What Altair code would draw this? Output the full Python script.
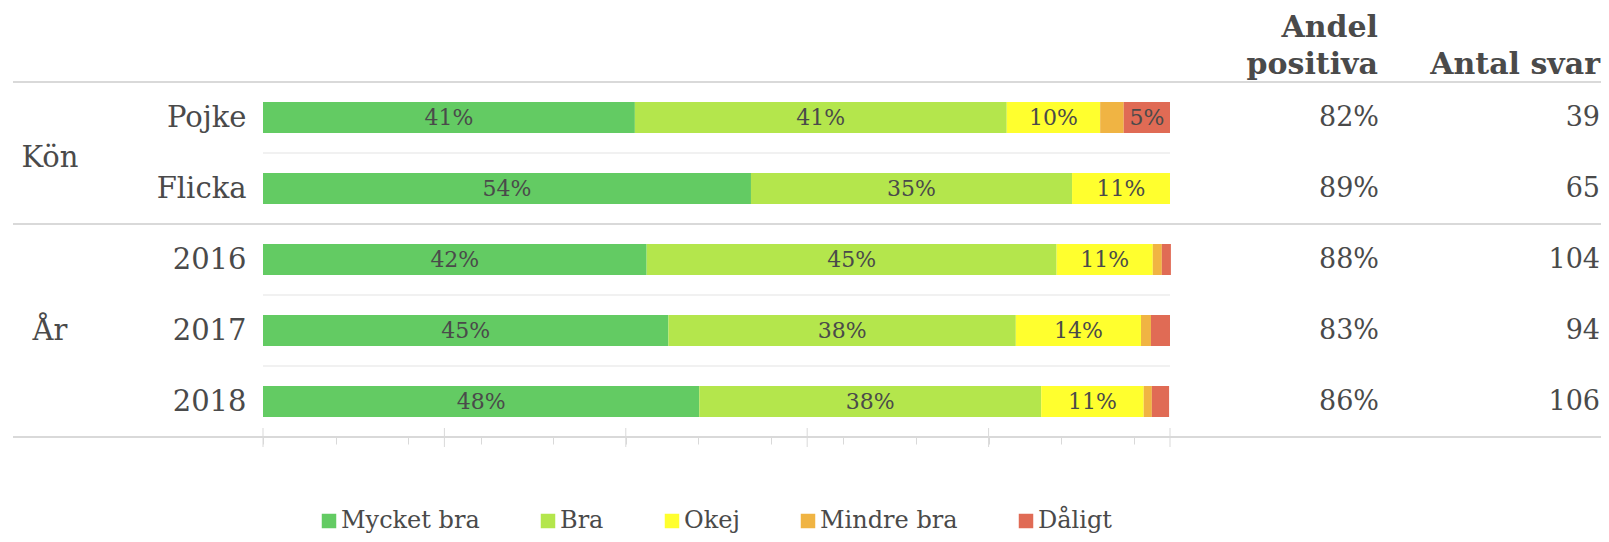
import altair as alt
import pandas as pd

FONT = "DejaVu Serif"
TXT = "#4A4A4A"

rows = ["Pojke", "Flicka", "2016", "2017", "2018"]
groups = ["Kön", "Kön", "År", "År", "År"]
categories = ["Mycket bra", "Bra", "Okej", "Mindre bra", "Dåligt"]
colors = ["#63CB63", "#B4E64C", "#FFFF2E", "#F0B443", "#E06B55"]

mycket_bra = [41.0, 53.8, 42.3, 44.7, 48.1]
bra = [41.0, 35.4, 45.2, 38.3, 37.7]
okej = [10.3, 10.8, 10.6, 13.8, 11.3]
mindre_bra = [2.6, 0.0, 1.0, 1.1, 0.9]
daligt = [5.1, 0.0, 1.0, 2.1, 1.9]

andel_positiva = [82, 89, 88, 83, 86]
antal_svar = [39, 65, 104, 94, 106]

tick_values = [0, 4, 8, 12, 16, 20, 24, 28, 32, 36, 40, 44, 48, 52, 56, 60,
               64, 68, 72, 76, 80, 84, 88, 92, 96, 100]
major_ticks = [0, 20, 40, 60, 80, 100]

series = [mycket_bra, bra, okej, mindre_bra, daligt]
recs = []
for ci, (cat, vals) in enumerate(zip(categories, series)):
    for ri, r in enumerate(rows):
        v = vals[ri]
        if v <= 0:
            continue
        recs.append({"row": r, "category": cat, "order": ci, "value": v,
                     "label": f"{round(v)}%" if v >= 4 else ""})
df = pd.DataFrame(recs)

side = pd.DataFrame({"row": rows,
                     "andel": [f"{v}%" for v in andel_positiva],
                     "antal": [str(v) for v in antal_svar]})

sep_rows = [rows[i] for i in range(len(rows) - 1) if groups[i] == groups[i + 1]]
sep_df = pd.DataFrame({"row": sep_rows})
grp_end_rows = [rows[i] for i in range(len(rows)) if i == len(rows) - 1 or groups[i] != groups[i + 1]]
grp_end_df = pd.DataFrame({"row": grp_end_rows})
grp_top_df = pd.DataFrame({"row": [rows[0]]})
major_df = pd.DataFrame({"v": major_ticks})

W, H = 907, 355
x_scale = alt.Scale(domain=[0, 100], nice=False, zero=True)
y_scale = alt.Scale(domain=rows, paddingInner=0, paddingOuter=0)

stacked = alt.Chart(df).transform_stack(
    stack="value", groupby=["row"], sort=[alt.SortField("order")], as_=["x0", "x1"]
)

bars = stacked.mark_bar(size=31).encode(
    x=alt.X("x0:Q", scale=x_scale,
            axis=alt.Axis(values=tick_values, ticks=True, tickSize=7, tickColor="#D9D9D9",
                          tickWidth=1, labels=False, domain=False, grid=False, title=None)),
    x2="x1:Q",
    y=alt.Y("row:N", sort=rows, scale=y_scale,
            axis=alt.Axis(title=None, ticks=False, domain=False, labelPadding=17,
                          labelFontSize=29, labelFont=FONT, labelColor=TXT,
                          labelAlign="right", labelBaseline="middle")),
    color=alt.Color("category:N", scale=alt.Scale(domain=categories, range=colors),
                    legend=alt.Legend(title=None, orient="none", legendX=54, legendY=427,
                                      direction="horizontal", symbolType="square",
                                      symbolSize=210, symbolStrokeWidth=0, symbolOpacity=1,
                                      labelFont=FONT, labelFontSize=24, labelColor=TXT,
                                      labelOffset=0, columnPadding=56, padding=0,
                                      labelLimit=400)),
    order=alt.Order("order:Q"),
)

labels = stacked.transform_calculate(mid="(datum.x0 + datum.x1) / 2").mark_text(
    font=FONT, fontSize=22, color=TXT, baseline="middle", align="center"
).encode(
    x=alt.X("mid:Q", scale=x_scale),
    y=alt.Y("row:N", sort=rows, scale=y_scale),
    text="label:N",
)

seps = alt.Chart(sep_df).mark_rule(color="#E3E3E3", strokeWidth=1).encode(
    y=alt.Y("row:N", sort=rows, scale=y_scale, bandPosition=1),
    x=alt.datum(0), x2=alt.datum(100),
)

grp_lines = alt.Chart(grp_end_df).mark_rule(color="#D9D9D9", strokeWidth=2).encode(
    y=alt.Y("row:N", sort=rows, scale=y_scale, bandPosition=1),
    x=alt.value(-250), x2=alt.value(1340),
)
grp_top = alt.Chart(grp_top_df).mark_rule(color="#D9D9D9", strokeWidth=2).encode(
    y=alt.Y("row:N", sort=rows, scale=y_scale, bandPosition=0),
    x=alt.value(-250), x2=alt.value(1340),
)

major = alt.Chart(major_df).mark_rule(color="#D9D9D9", strokeWidth=1).encode(
    x=alt.X("v:Q", scale=x_scale),
    y=alt.value(H - 9), y2=alt.value(H + 10),
)

kon = alt.Chart(pd.DataFrame({"row": ["Pojke"], "t": ["Kön"]})).mark_text(
    font=FONT, fontSize=29, color=TXT, align="center", baseline="middle", dy=5
).encode(
    x=alt.value(-213),
    y=alt.Y("row:N", sort=rows, scale=y_scale, bandPosition=1),
    text="t:N",
)
ar = alt.Chart(pd.DataFrame({"row": ["2017"], "t": ["År"]})).mark_text(
    font=FONT, fontSize=29, color=TXT, align="center", baseline="middle"
).encode(
    x=alt.value(-213),
    y=alt.Y("row:N", sort=rows, scale=y_scale),
    text="t:N",
)

andel_txt = alt.Chart(side).mark_text(
    font=FONT, fontSize=27, color=TXT, align="right", baseline="middle"
).encode(x=alt.value(1116), y=alt.Y("row:N", sort=rows, scale=y_scale), text="andel:N")
antal_txt = alt.Chart(side).mark_text(
    font=FONT, fontSize=27, color=TXT, align="right", baseline="middle"
).encode(x=alt.value(1337), y=alt.Y("row:N", sort=rows, scale=y_scale), text="antal:N")

hdr_df = pd.DataFrame({"a": [0]})
h1 = alt.Chart(hdr_df).mark_text(font=FONT, fontSize=30, fontWeight="bold", color=TXT,
                                 align="right", baseline="middle", text="Andel").encode(
    x=alt.value(1115), y=alt.value(-54))
h2 = alt.Chart(hdr_df).mark_text(font=FONT, fontSize=30, fontWeight="bold", color=TXT,
                                 align="right", baseline="middle", text="positiva").encode(
    x=alt.value(1115), y=alt.value(-17))
h3 = alt.Chart(hdr_df).mark_text(font=FONT, fontSize=30, fontWeight="bold", color=TXT,
                                 align="right", baseline="middle", text="Antal svar").encode(
    x=alt.value(1337), y=alt.value(-17))

chart = alt.layer(
    bars, seps, grp_lines, grp_top, major, labels, kon, ar, andel_txt, antal_txt, h1, h2, h3
).properties(
    width=W, height=H,
    padding={"left": 255, "top": 74, "right": 431, "bottom": 97},
    autosize=alt.AutoSizeParams(type="none"),
).configure_view(stroke=None)

chart.save("out.html", embed_options={"renderer": "svg", "actions": False})
